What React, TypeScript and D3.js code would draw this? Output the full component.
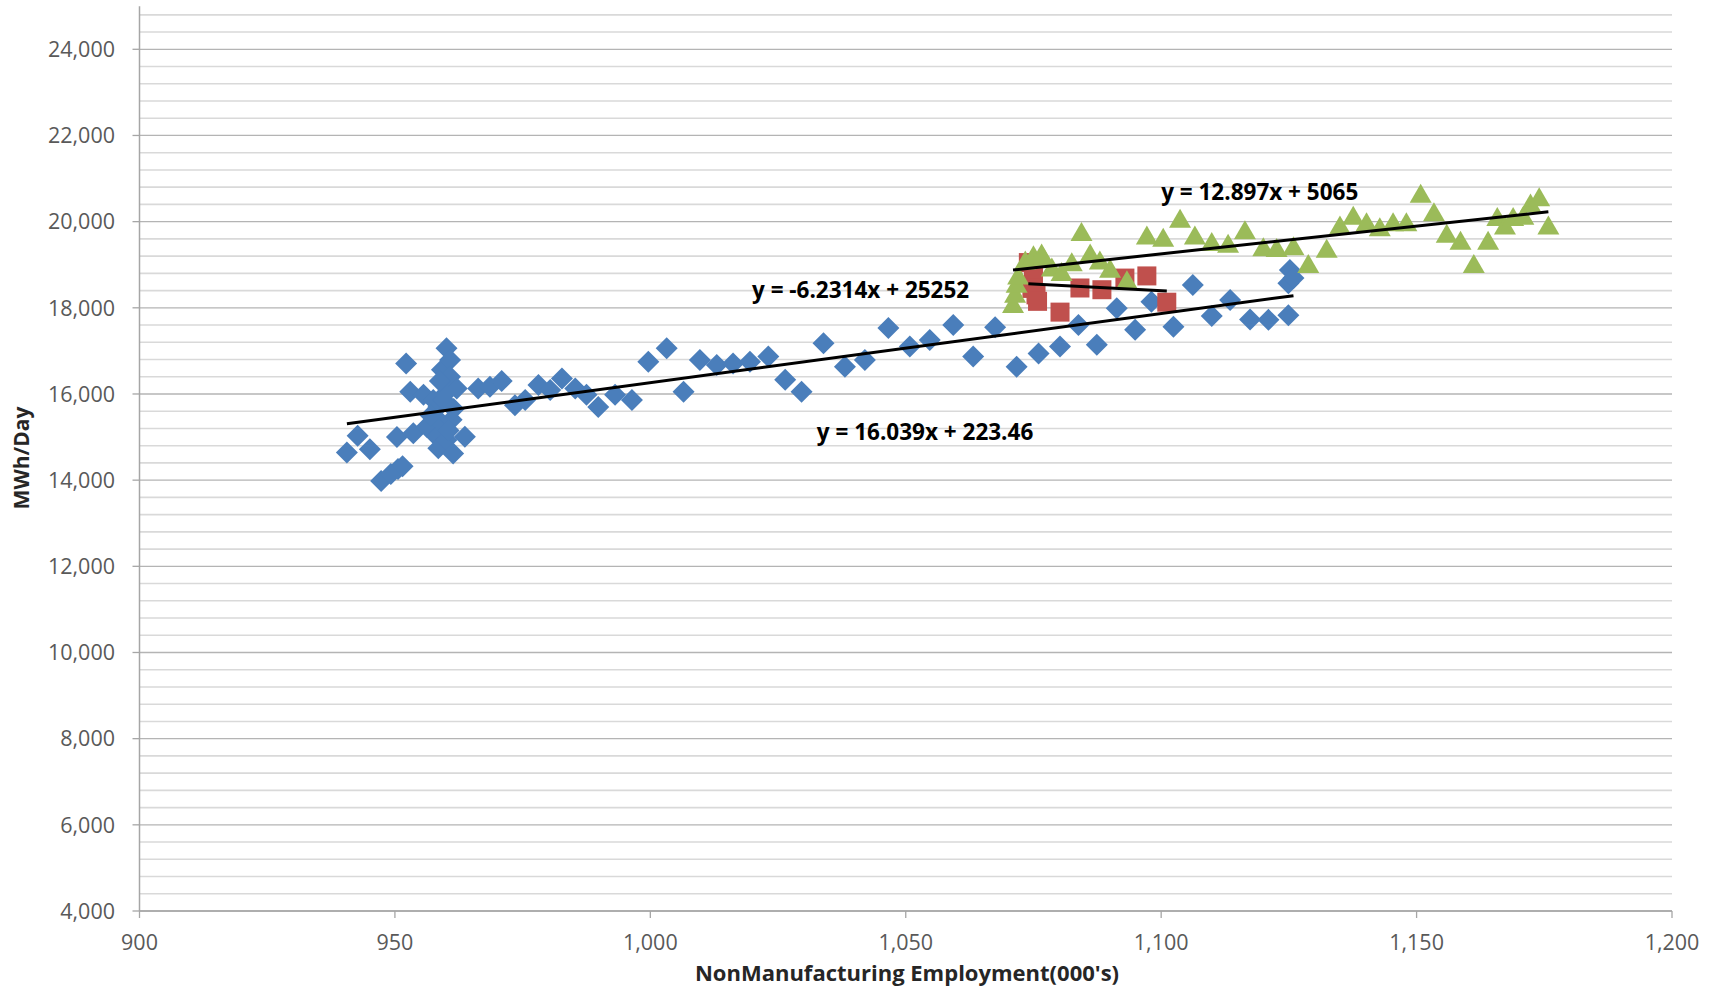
import React from "react";
import * as d3 from "d3";

const xTicks = [900, 950, 1000, 1050, 1100, 1150, 1200];
const yTicks = [4000, 6000, 8000, 10000, 12000, 14000, 16000, 18000, 20000, 22000, 24000];

const blueSeries: [number, number][] = [
  [940.6, 14640], [942.7, 15030], [945.1, 14720], [947.3, 13980], [949.2, 14140], [950.6, 14260], [951.5, 14320],
  [950.4, 15000], [952.2, 16710], [953.0, 16050], [953.6, 15090], [955.6, 15980], [956.2, 15240], [957.5, 15860],
  [958.2, 15010], [958.5, 15700], [958.5, 14740], [959.2, 16560], [959.2, 15320], [959.5, 15860], [960.1, 17060],
  [960.1, 16170], [960.1, 14930], [960.8, 16790], [960.8, 16400], [961.1, 15400], [961.4, 14620], [962.1, 16130],
  [963.7, 15010], [957.0, 15500], [959.8, 16000], [961.5, 15650], [960.5, 15150], [958.8, 16300],
  [966.3, 16130], [968.6, 16170], [970.9, 16300], [973.5, 15740], [975.5, 15860], [978.1, 16210], [980.4, 16090],
  [982.7, 16360], [985.3, 16130], [987.5, 15980], [989.8, 15700], [993.1, 15980], [996.4, 15860], [999.6, 16750],
  [1003.2, 17060], [1006.5, 16050], [1009.7, 16790], [1013.0, 16670], [1016.2, 16710], [1019.5, 16750],
  [1023.1, 16870], [1026.4, 16330], [1029.6, 16050], [1033.9, 17180], [1038.1, 16630], [1042.0, 16790],
  [1046.6, 17530], [1050.8, 17100], [1054.7, 17250], [1059.3, 17600], [1063.2, 16870], [1067.5, 17550],
  [1071.7, 16630], [1076.0, 16940], [1080.2, 17100], [1083.8, 17600], [1087.4, 17140], [1091.3, 17990],
  [1094.9, 17490], [1098.1, 18140], [1102.4, 17560], [1106.2, 18530], [1109.9, 17810], [1113.5, 18180],
  [1117.4, 17730], [1121.0, 17720], [1124.9, 17830], [1124.9, 18570], [1125.2, 18880], [1125.9, 18690],
];

const redSeries: [number, number][] = [
  [1074.0, 19050], [1075.0, 18720], [1074.7, 18450], [1075.5, 18300], [1075.8, 18150], [1080.2, 17900],
  [1084.1, 18460], [1088.4, 18420], [1092.9, 18690], [1097.2, 18740], [1101.1, 18130],
];

const greenSeries: [number, number][] = [
  [1071.0, 18100], [1071.4, 18340], [1071.7, 18570], [1072.0, 18760], [1073.4, 19110], [1075.0, 19230],
  [1076.9, 19190], [1078.6, 18950], [1080.5, 18840], [1082.5, 19070], [1084.4, 19770], [1086.1, 19270],
  [1088.0, 19110], [1090.0, 18920], [1093.3, 18650], [1097.2, 19690], [1100.4, 19640], [1103.7, 20080],
  [1106.6, 19690], [1109.9, 19540], [1113.1, 19500], [1116.4, 19810], [1120.0, 19420], [1122.6, 19400],
  [1125.9, 19440], [1128.8, 19030], [1132.4, 19380], [1135.0, 19920], [1137.6, 20150], [1140.2, 20000],
  [1142.8, 19880], [1145.4, 20000], [1148.0, 20000], [1150.8, 20660], [1153.4, 20230], [1155.9, 19730],
  [1158.6, 19570], [1161.2, 19030], [1164.0, 19570], [1165.8, 20120], [1167.3, 19920], [1168.9, 20120],
  [1170.9, 20150], [1172.3, 20430], [1174.0, 20580], [1175.8, 19920], [1076.6, 19270],
];

// trendline coefficients [slope, intercept]
const blueTrend = [16.039, 223.46];
const redTrend = [-6.2314, 25252];
const greenTrend = [12.897, 5065];

const eqLabels = [
  { text: "y = 16.039x + 223.46", x: 1032.6, y: 14932 },
  { text: "y = -6.2314x + 25252", x: 1019.9, y: 18228 },
  { text: "y = 12.897x + 5065", x: 1100.0, y: 20502 },
];

const W = 1721;
const H = 992;
const FONT = "'Open Sans', 'Liberation Sans', sans-serif";

export default function App() {
  const x = d3.scaleLinear().domain([900, 1200]).range([139.5, 1672]);
  const y = d3.scaleLinear().domain([4000, 24000]).range([911, 49.3]);
  const yTop = 25000;
  const minorTicks = d3.range(4400, yTop, 400).filter((v) => v % 2000 !== 0);

  const diamond = (cx: number, cy: number) => {
    const r = 11;
    return `M${cx},${cy - r}L${cx + r},${cy}L${cx},${cy + r}L${cx - r},${cy}Z`;
  };
  const triangle = (cx: number, cy: number) => {
    const w = 11, h = 9.5;
    return `M${cx},${cy - h}L${cx + w},${cy + h}L${cx - w},${cy + h}Z`;
  };

  const trend = (data: [number, number][], c: number[]) => {
    const [lo, hi] = d3.extent(data, (d) => d[0]) as [number, number];
    return d3.line<number>().x((v) => x(v)).y((v) => y(c[0] * v + c[1]))([lo, hi]) || "";
  };

  return (
    <svg width={W} height={H} style={{ position: "absolute", left: 0, top: 0, background: "#fff" }} fontFamily={FONT}>
      {minorTicks.map((v) => (
        <line key={"mi" + v} x1={x(900)} x2={x(1200)} y1={y(v)} y2={y(v)} stroke="#d9d9d9" strokeWidth={1.6} />
      ))}
      {yTicks.map((v) => (
        <line key={"ma" + v} x1={x(900)} x2={x(1200)} y1={y(v)} y2={y(v)} stroke="#b4b4b4" strokeWidth={1.3} />
      ))}
      <line x1={x(900)} x2={x(900)} y1={y(yTop)} y2={y(4000)} stroke="#a6a6a6" strokeWidth={1.5} />
      <line x1={x(900)} x2={x(1200)} y1={y(4000)} y2={y(4000)} stroke="#a6a6a6" strokeWidth={1.5} />
      {yTicks.map((v) => (
        <line key={"yt" + v} x1={x(900) - 7} x2={x(900)} y1={y(v)} y2={y(v)} stroke="#a6a6a6" strokeWidth={1.3} />
      ))}
      {xTicks.map((v) => (
        <line key={"xt" + v} x1={x(v)} x2={x(v)} y1={y(4000)} y2={y(4000) + 7} stroke="#a6a6a6" strokeWidth={1.3} />
      ))}
      {yTicks.map((v) => (
        <text key={"yl" + v} x={115} y={y(v)} dy="0.36em" textAnchor="end" fontSize={21.5} fill="#595959">
          {d3.format(",")(v)}
        </text>
      ))}
      {xTicks.map((v) => (
        <text key={"xl" + v} x={x(v)} y={950} textAnchor="middle" fontSize={21.5} fill="#595959">
          {d3.format(",")(v)}
        </text>
      ))}
      <text x={907} y={981} textAnchor="middle" fontSize={22} fontWeight="bold" fill="#262626">
        NonManufacturing Employment(000's)
      </text>
      <text transform={`translate(29,458) rotate(-90)`} textAnchor="middle" fontSize={21} fontWeight="bold" fill="#262626">
        MWh/Day
      </text>
      {blueSeries.map((d, i) => (
        <path key={"b" + i} d={diamond(x(d[0]), y(d[1]))} fill="#4a7ebb" />
      ))}
      {redSeries.map((d, i) => (
        <rect key={"r" + i} x={x(d[0]) - 9.5} y={y(d[1]) - 9.5} width={19} height={19} fill="#c0504d" />
      ))}
      {greenSeries.map((d, i) => (
        <path key={"g" + i} d={triangle(x(d[0]), y(d[1]))} fill="#9bbb59" />
      ))}
      <path d={trend(blueSeries, blueTrend)} stroke="#000" strokeWidth={3} fill="none" />
      <path d={trend(redSeries, redTrend)} stroke="#000" strokeWidth={3} fill="none" />
      <path d={trend(greenSeries, greenTrend)} stroke="#000" strokeWidth={3} fill="none" />
      {eqLabels.map((l, i) => (
        <text key={"eq" + i} x={x(l.x)} y={y(l.y)} fontSize={22.5} fontWeight="bold" fill="#000">
          {l.text}
        </text>
      ))}
    </svg>
  );
}
